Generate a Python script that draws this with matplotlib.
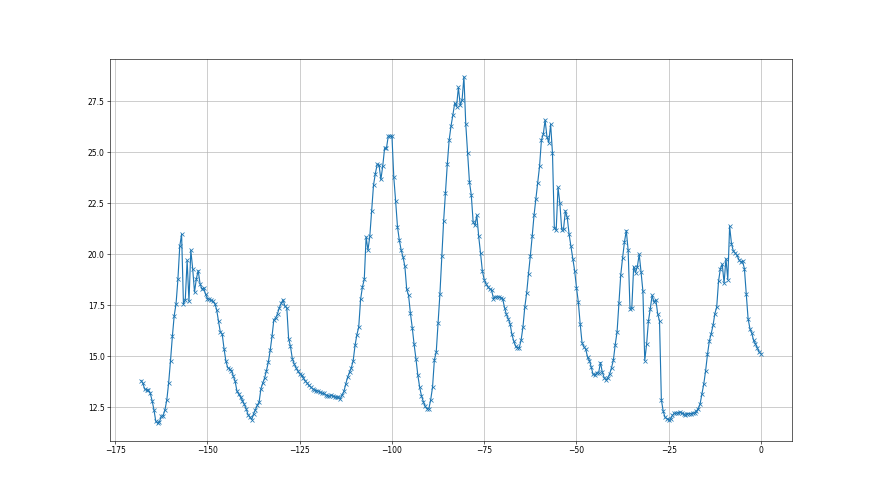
import numpy as np
import matplotlib
matplotlib.use("Agg")
import matplotlib.pyplot as plt

# hours relative to now (half-hour steps)
hours = np.arange(-168, 0.25, 0.5)

values = [
    13.82, 13.69, 13.40, 13.35, 13.35, 13.20, 12.84, 12.40, 11.83, 11.73,
    11.80, 12.07, 12.10, 12.39, 12.88, 13.72, 14.80, 15.98, 17.00, 17.58,
    18.77, 20.39, 20.98, 17.58, 17.78, 19.70, 17.70, 20.20, 19.30, 18.15,
    18.80, 19.20, 18.56, 18.30, 18.35, 18.04, 17.83, 17.80, 17.75, 17.70,
    17.58, 17.29, 16.72, 16.19, 16.10, 15.38, 14.77, 14.45, 14.38, 14.30,
    14.05, 13.79, 13.30, 13.15, 13.00, 12.84, 12.65, 12.44, 12.15, 12.03,
    11.91, 12.19, 12.40, 12.60, 12.76, 13.42, 13.70, 13.95, 14.31, 14.72,
    15.29, 15.98, 16.80, 16.88, 17.10, 17.39, 17.60, 17.78, 17.45, 17.39,
    15.87, 15.49, 14.89, 14.64, 14.45, 14.28, 14.15, 14.07, 13.95, 13.80,
    13.70, 13.58, 13.50, 13.42, 13.35, 13.33, 13.30, 13.25, 13.20, 13.20,
    13.12, 13.08, 13.05, 13.09, 13.06, 13.03, 13.00, 13.00, 12.93, 13.12,
    13.30, 13.66, 13.99, 14.23, 14.45, 14.80, 15.54, 16.06, 16.44, 17.79,
    18.40, 18.77, 20.85, 20.20, 20.88, 22.12, 23.38, 23.95, 24.40, 24.37,
    23.66, 24.31, 25.18, 25.18, 25.78, 25.78, 25.78, 23.76, 22.60, 21.34,
    20.69, 20.20, 19.87, 19.41, 18.28, 17.99, 17.12, 16.41, 15.59, 14.89,
    14.10, 13.50, 13.07, 12.79, 12.55, 12.44, 12.44, 12.88, 13.50, 14.84,
    15.21, 16.63, 18.07, 19.90, 21.62, 22.98, 24.41, 25.59, 26.27, 26.81,
    27.39, 27.22, 28.17, 27.30, 27.55, 28.69, 26.37, 24.98, 23.54, 22.89,
    21.58, 21.42, 21.91, 20.88, 20.06, 19.18, 18.76, 18.55, 18.40, 18.30,
    18.24, 17.83, 17.91, 17.91, 17.91, 17.88, 17.83, 17.39, 17.06, 16.85,
    16.60, 16.08, 15.75, 15.50, 15.43, 15.43, 15.80, 16.44, 17.42, 18.10,
    19.05, 19.92, 20.88, 21.91, 22.70, 23.50, 24.31, 25.59, 25.87, 26.57,
    25.75, 25.47, 26.36, 24.94, 21.29, 21.18, 23.27, 22.49, 21.21, 21.26,
    22.12, 21.80, 20.98, 20.39, 19.79, 19.20, 18.37, 17.66, 16.60, 15.68,
    15.47, 15.36, 14.97, 14.80, 14.48, 14.12, 14.07, 14.20, 14.20, 14.70,
    14.23, 13.96, 13.85, 13.96, 14.15, 14.45, 14.82, 15.58, 16.20, 17.61,
    19.00, 19.83, 20.60, 21.16, 20.20, 17.34, 17.39, 19.40, 19.10, 19.40,
    20.00, 19.13, 18.19, 14.80, 15.59, 16.73, 17.34, 17.99, 17.66, 17.78,
    17.09, 16.73, 12.88, 12.32, 12.02, 11.95, 11.91, 11.95, 12.11, 12.22,
    12.22, 12.24, 12.27, 12.22, 12.20, 12.11, 12.20, 12.20, 12.20, 12.22,
    12.24, 12.32, 12.44, 12.68, 13.17, 13.66, 14.31, 15.10, 15.75, 16.11,
    16.52, 17.09, 17.42, 18.69, 19.30, 19.51, 18.59, 19.79, 18.76, 21.37,
    20.52, 20.16, 20.06, 19.95, 19.74, 19.62, 19.67, 19.30, 18.07, 16.85,
    16.36, 16.14, 15.78, 15.62, 15.41, 15.21, 15.13,
]

fig, ax = plt.subplots(figsize=(16, 9), dpi=55)
ax.plot(hours, values, marker='x', color='#1f77b4')
ax.grid(True)
fig.savefig("out.png", dpi=55)
